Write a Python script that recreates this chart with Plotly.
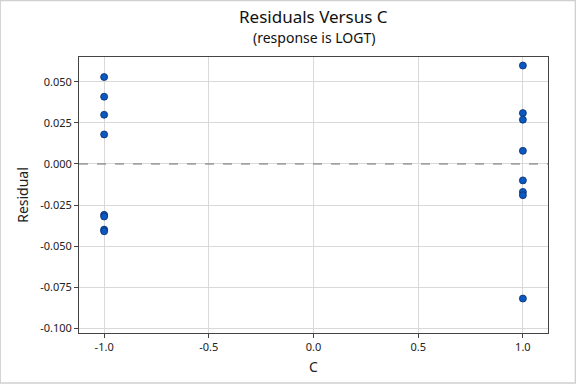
import plotly.graph_objects as go

c_values = [-1, -1, -1, -1, -1, -1, -1, -1,
            1, 1, 1, 1, 1, 1, 1, 1]
residuals = [0.053, 0.041, 0.030, 0.018, -0.031, -0.032, -0.040, -0.041,
             0.060, 0.031, 0.027, 0.008, -0.010, -0.017, -0.019, -0.082]
x_ticks = [-1.0, -0.5, 0.0, 0.5, 1.0]
x_tick_labels = ["-1.0", "-0.5", "0.0", "0.5", "1.0"]
y_ticks = [0.05, 0.025, 0.0, -0.025, -0.05, -0.075, -0.1]
y_tick_labels = ["0.050", "0.025", "0.000", "-0.025", "-0.050", "-0.075", "-0.100"]

font_family = "Noto Sans, Open Sans, DejaVu Sans, sans-serif"

fig = go.Figure()
fig.add_trace(go.Scatter(
    x=c_values, y=residuals, mode="markers",
    marker=dict(size=7, color="#0A58C2", line=dict(color="#0B2D6A", width=0.8)),
    showlegend=False,
))

fig.add_hline(y=0, line=dict(color="#707070", width=1, dash="dash"))

# light outer border around the whole image
fig.add_shape(type="rect", xref="paper", yref="paper",
              x0=-0.1681, x1=1.0585, y0=-0.1812, y1=1.2047,
              line=dict(color="#D0D0D0", width=1.5), fillcolor="rgba(0,0,0,0)",
              layer="below")

fig.add_annotation(text="Residuals Versus C", xref="paper", yref="paper",
                   x=0.5, y=(333 - 16) / 276, xanchor="center", yanchor="middle",
                   showarrow=False, borderpad=0,
                   font=dict(size=17, family=font_family, color="#111111"))
fig.add_annotation(text="(response is LOGT)", xref="paper", yref="paper",
                   x=0.5, y=(333 - 37.5) / 276, xanchor="center", yanchor="middle",
                   showarrow=False, borderpad=0,
                   font=dict(size=14, family=font_family, color="#111111"))

fig.update_layout(
    width=576, height=384,
    margin=dict(l=79, r=28, t=57, b=51),
    paper_bgcolor="white", plot_bgcolor="white",
    font=dict(family=font_family, color="#222222", size=11),
    xaxis=dict(
        range=[-1.12, 1.12], tickvals=x_ticks, ticktext=x_tick_labels,
        showgrid=True, gridcolor="#D9D9D9", gridwidth=1, zeroline=False,
        showline=True, linecolor="#444444", linewidth=1, mirror=True,
        ticks="outside", ticklen=4, tickcolor="#444444",
        title=dict(text="C", font=dict(size=14), standoff=8),
        tickfont=dict(size=11, color="#222222"),
    ),
    yaxis=dict(
        range=[-0.1030, 0.0652], tickvals=y_ticks, ticktext=y_tick_labels,
        showgrid=True, gridcolor="#D9D9D9", gridwidth=1, zeroline=False,
        showline=True, linecolor="#444444", linewidth=1, mirror=True,
        ticks="outside", ticklen=4, tickcolor="#444444",
        title=dict(text="Residual", font=dict(size=14), standoff=8),
        tickfont=dict(size=11, color="#222222"),
    ),
)

fig.write_html("out.html", config={"displayModeBar": False},
               post_script="document.body.style.margin='0';document.body.style.overflow='hidden';")
